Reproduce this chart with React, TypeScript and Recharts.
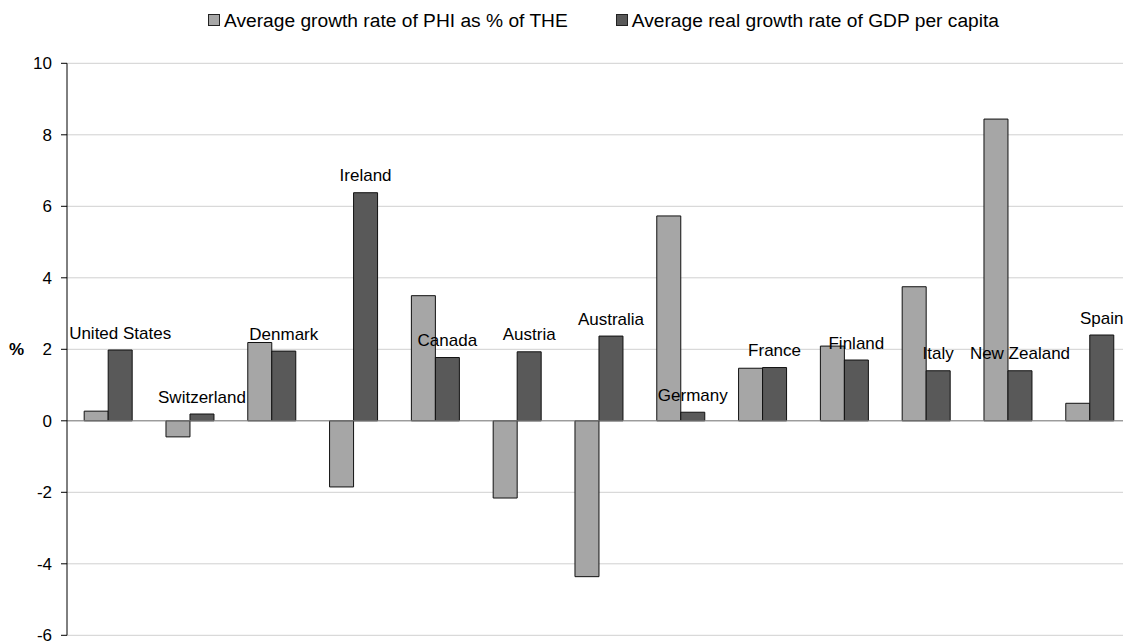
import React from 'react';
import {
  BarChart,
  Bar,
  XAxis,
  YAxis,
  CartesianGrid,
  Legend,
  ReferenceLine,
  LabelList,
  Label,
} from 'recharts';

const countries = [
  'United States',
  'Switzerland',
  'Denmark',
  'Ireland',
  'Canada',
  'Austria',
  'Australia',
  'Germany',
  'France',
  'Finland',
  'Italy',
  'New Zealand',
  'Spain',
];
const phiGrowth = [0.27, -0.45, 2.19, -1.85, 3.5, -2.16, -4.36, 5.73, 1.47, 2.09, 3.75, 8.44, 0.49];
const gdpGrowth = [1.98, 0.19, 1.95, 6.38, 1.77, 1.93, 2.37, 0.24, 1.49, 1.7, 1.4, 1.4, 2.4];
const yTicks = [-6, -4, -2, 0, 2, 4, 6, 8, 10];
const seriesNames = [
  'Average growth rate of PHI as % of THE',
  'Average real growth rate of GDP per capita',
];
const yAxisLabel = '%';

const data = countries.map((name, i) => ({ name, phi: phiGrowth[i], gdp: gdpGrowth[i] }));

const FONT = '"Liberation Sans", Arial, Helvetica, sans-serif';
const LIGHT = '#a6a6a6';
const DARK = '#595959';

const LegendContent = () => {
  const colors = [LIGHT, DARK];
  return (
    <div style={{ position: 'relative', height: 0 }}>
      <div
        style={{
          position: 'absolute',
          left: 200,
          top: 2.6,
          display: 'flex',
          alignItems: 'center',
          whiteSpace: 'nowrap',
          fontFamily: FONT,
          fontSize: 19.2,
          lineHeight: '19px',
          color: '#000',
        }}
      >
        {seriesNames.map((s, i) => (
          <div key={s} style={{ display: 'flex', alignItems: 'center', marginLeft: i === 0 ? 0 : 48 }}>
            <span
              style={{
                display: 'inline-block',
                width: 10,
                height: 10,
                background: colors[i],
                border: '1px solid #222',
                marginRight: 4,
              }}
            />
            <span>{s}</span>
          </div>
        ))}
      </div>
    </div>
  );
};

const CountryLabel = (props: any) => {
  const { x, y, width, value } = props;
  return (
    <text
      x={Number(x) + Number(width) / 2}
      y={Number(y) - 11.5}
      textAnchor="middle"
      fontSize={17}
      fontFamily={FONT}
      fill="#000"
    >
      {value}
    </text>
  );
};

export default function App() {
  return (
    <div style={{ position: 'fixed', left: 8, top: 8, width: 1115, height: 635, overflow: 'hidden', background: '#fff' }}>
      <BarChart
        width={1115}
        height={635}
        data={data}
        margin={{ top: 55.3, right: 0, bottom: 7.7, left: 0 }}
        barCategoryGap="21%"
        barGap={0}
        style={{ fontFamily: FONT }}
      >
        <CartesianGrid vertical={false} stroke="#d0d0d0" strokeWidth={1} />
        <XAxis dataKey="name" hide padding={{ left: 0, right: -7.4 }} />
        <YAxis
          width={59}
          domain={[-6, 10]}
          ticks={yTicks}
          interval={0}
          tickSize={6}
          tickMargin={9}
          axisLine={{ stroke: '#000' }}
          tickLine={{ stroke: '#000' }}
          tick={{ fontSize: 17, fill: '#000', fontFamily: FONT }}
        >
          <Label
            value={yAxisLabel}
            position="insideLeft"
            offset={1}
            style={{ fontSize: 17, fontWeight: 'bold', fill: '#000', fontFamily: FONT }}
          />
        </YAxis>
        <Legend
          verticalAlign="top"
          content={<LegendContent />}
          wrapperStyle={{ top: 0, left: 0, width: 1115, height: 0, margin: 0 }}
        />
        <ReferenceLine y={0} stroke="#808080" strokeWidth={1} />
        <Bar dataKey="phi" name={seriesNames[0]} fill={LIGHT} stroke="#111" strokeWidth={1} isAnimationActive={false} />
        <Bar dataKey="gdp" name={seriesNames[1]} fill={DARK} stroke="#111" strokeWidth={1} isAnimationActive={false}>
          <LabelList dataKey="name" content={<CountryLabel />} />
        </Bar>
      </BarChart>
    </div>
  );
}
